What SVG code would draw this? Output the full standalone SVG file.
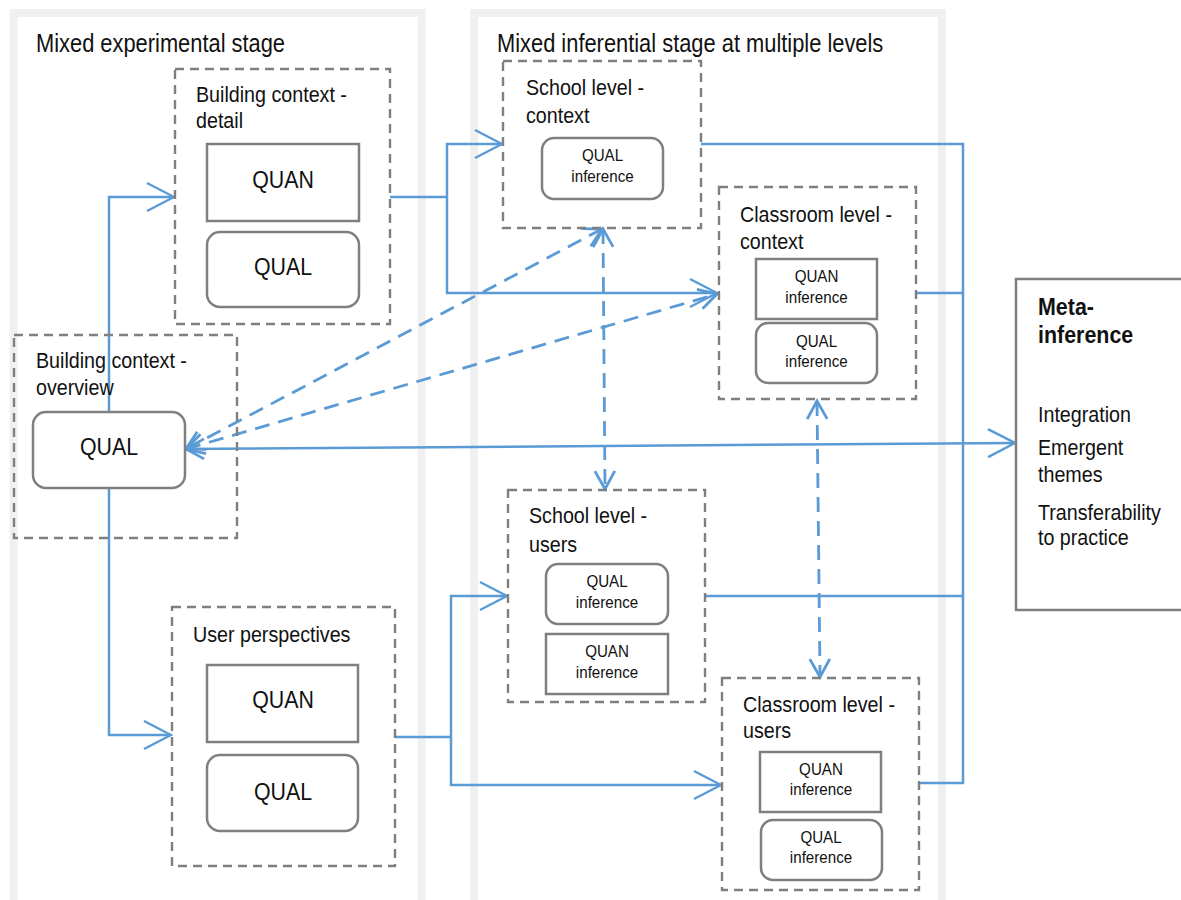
<svg xmlns="http://www.w3.org/2000/svg" width="1181" height="900" viewBox="0 0 1181 900">
  <style>
    text { font-family: "Liberation Sans", Arial, Helvetica, sans-serif; fill: #111; }
    .t, .c { transform-box: fill-box; transform: scaleX(0.875); }
    .t { transform-origin: 0 0; }
    .c { transform-origin: 50% 50%; text-anchor: middle; }
    .title { font-size: 25px; }
    .lbl { font-size: 22.5px; }
    .big { font-size: 24.4px; }
    .sm { font-size: 17.3px; }
    .bold { font-size: 24.5px; font-weight: bold; }
    .panel { fill: #fff; stroke: #f0f0f0; stroke-width: 8; }
    .group { fill: none; stroke: #7f7f7f; stroke-width: 2.4; stroke-dasharray: 9 6; }
    .box { fill: #fff; stroke: #7f7f7f; stroke-width: 2.5; }
    .flow { fill: none; stroke: #5b9bd5; stroke-width: 2.5; }
    .link { fill: none; stroke: #5b9bd5; stroke-width: 2.8; stroke-dasharray: 15 9; }
  </style>
  <defs>
    <marker id="head" markerUnits="userSpaceOnUse" markerWidth="30" markerHeight="32" refX="28" refY="16" orient="auto-start-reverse">
      <path d="M1,2 L28,16 L1,30" fill="none" stroke="#5b9bd5" stroke-width="2.5"/>
    </marker>
    <marker id="tip" markerUnits="userSpaceOnUse" markerWidth="22" markerHeight="24" refX="19" refY="12" orient="auto-start-reverse">
      <path d="M1,2 L19,12 L1,22" fill="none" stroke="#5b9bd5" stroke-width="2.8"/>
    </marker>
  </defs>

  <!-- stage panels -->
  <g id="panels">
    <rect class="panel" x="13.5" y="13" width="408" height="900"/>
    <text class="t title" x="36" y="52">Mixed experimental stage</text>
    <rect class="panel" x="474" y="13" width="468" height="900"/>
    <text class="t title" x="497" y="52">Mixed inferential stage at multiple levels</text>
  </g>

  <!-- connectors -->
  <g id="connectors">
    <path class="flow" d="M109,412 V197 H174" marker-end="url(#head)"/>
    <path class="flow" d="M109,488 V735 H171" marker-end="url(#head)"/>
    <path class="flow" d="M390,197 H447"/>
    <path class="flow" d="M447,197 V144 H502" marker-end="url(#head)"/>
    <path class="flow" d="M447,197 V293 H717" marker-end="url(#head)"/>
    <path class="flow" d="M395,737 H451"/>
    <path class="flow" d="M451,737 V596 H507" marker-end="url(#head)"/>
    <path class="flow" d="M451,737 V785 H721" marker-end="url(#head)"/>
    <path class="flow" d="M701,144 H963 V783 H919"/>
    <path class="flow" d="M916,293 H963"/>
    <path class="flow" d="M705,596 H963"/>
    <path class="flow" d="M186,449 L1015,443" marker-start="url(#tip)" marker-end="url(#head)"/>
    <path class="link" d="M186,449 L602,229" marker-start="url(#tip)" marker-end="url(#tip)"/>
    <path class="link" d="M186,449 L717,294" marker-start="url(#tip)" marker-end="url(#tip)"/>
    <path class="link" d="M603,229 L605,489" marker-start="url(#tip)" marker-end="url(#tip)"/>
    <path class="link" d="M817,401 L820,677" marker-start="url(#tip)" marker-end="url(#tip)"/>
  </g>

  <!-- experimental stage -->
  <g id="building-detail">
    <rect class="group" x="175" y="69" width="215" height="255"/>
    <text class="t lbl" x="196" y="102">Building context -</text>
    <text class="t lbl" x="196" y="128">detail</text>
    <rect class="box" x="207" y="144" width="152" height="77"/>
    <text class="c big" x="283" y="188">QUAN</text>
    <rect class="box" x="207" y="232" width="152" height="75" rx="13"/>
    <text class="c big" x="283" y="275">QUAL</text>
  </g>

  <g id="building-overview">
    <rect class="group" x="14" y="335" width="223" height="203"/>
    <text class="t lbl" x="36" y="368">Building context -</text>
    <text class="t lbl" x="36" y="395">overview</text>
    <rect class="box" x="33" y="412" width="152" height="76" rx="13"/>
    <text class="c big" x="109" y="455">QUAL</text>
  </g>

  <g id="user-perspectives">
    <rect class="group" x="172" y="607" width="223" height="259"/>
    <text class="t lbl" x="193" y="642">User perspectives</text>
    <rect class="box" x="207" y="665" width="151" height="77"/>
    <text class="c big" x="283" y="708">QUAN</text>
    <rect class="box" x="207" y="755" width="151" height="76" rx="13"/>
    <text class="c big" x="283" y="800">QUAL</text>
  </g>

  <!-- inferential stage -->
  <g id="school-context">
    <rect class="group" x="503" y="61" width="198" height="167"/>
    <text class="t lbl" x="526" y="95">School level -</text>
    <text class="t lbl" x="526" y="123">context</text>
    <rect class="box" x="542" y="138" width="121" height="61" rx="12"/>
    <text class="c sm" x="602.5" y="161">QUAL</text>
    <text class="c sm" x="602.5" y="182">inference</text>
  </g>

  <g id="classroom-context">
    <rect class="group" x="719" y="187" width="197" height="212"/>
    <text class="t lbl" x="740" y="222">Classroom level -</text>
    <text class="t lbl" x="740" y="249">context</text>
    <rect class="box" x="756" y="259" width="121" height="60"/>
    <text class="c sm" x="816.5" y="282">QUAN</text>
    <text class="c sm" x="816.5" y="303">inference</text>
    <rect class="box" x="756" y="323" width="121" height="60" rx="12"/>
    <text class="c sm" x="816.5" y="347">QUAL</text>
    <text class="c sm" x="816.5" y="367">inference</text>
  </g>

  <g id="school-users">
    <rect class="group" x="508" y="490" width="197" height="212"/>
    <text class="t lbl" x="529" y="523">School level -</text>
    <text class="t lbl" x="529" y="552">users</text>
    <rect class="box" x="546" y="564" width="122" height="60" rx="12"/>
    <text class="c sm" x="607" y="587">QUAL</text>
    <text class="c sm" x="607" y="608">inference</text>
    <rect class="box" x="546" y="634" width="122" height="60"/>
    <text class="c sm" x="607" y="657">QUAN</text>
    <text class="c sm" x="607" y="678">inference</text>
  </g>

  <g id="classroom-users">
    <rect class="group" x="722" y="678" width="197" height="212"/>
    <text class="t lbl" x="743" y="712">Classroom level -</text>
    <text class="t lbl" x="743" y="738">users</text>
    <rect class="box" x="760" y="752" width="121" height="60"/>
    <text class="c sm" x="821" y="775">QUAN</text>
    <text class="c sm" x="821" y="795">inference</text>
    <rect class="box" x="761" y="820" width="121" height="60" rx="12"/>
    <text class="c sm" x="821" y="843">QUAL</text>
    <text class="c sm" x="821" y="863">inference</text>
  </g>

  <!-- synthesis -->
  <g id="meta-inference">
    <rect class="box" x="1016" y="279" width="200" height="331"/>
    <text class="t bold" x="1038" y="315">Meta-</text>
    <text class="t bold" x="1038" y="343">inference</text>
    <text class="t lbl" x="1038" y="422">Integration</text>
    <text class="t lbl" x="1038" y="455">Emergent</text>
    <text class="t lbl" x="1038" y="482">themes</text>
    <text class="t lbl" x="1038" y="520">Transferability</text>
    <text class="t lbl" x="1038" y="545">to practice</text>
  </g>
</svg>
